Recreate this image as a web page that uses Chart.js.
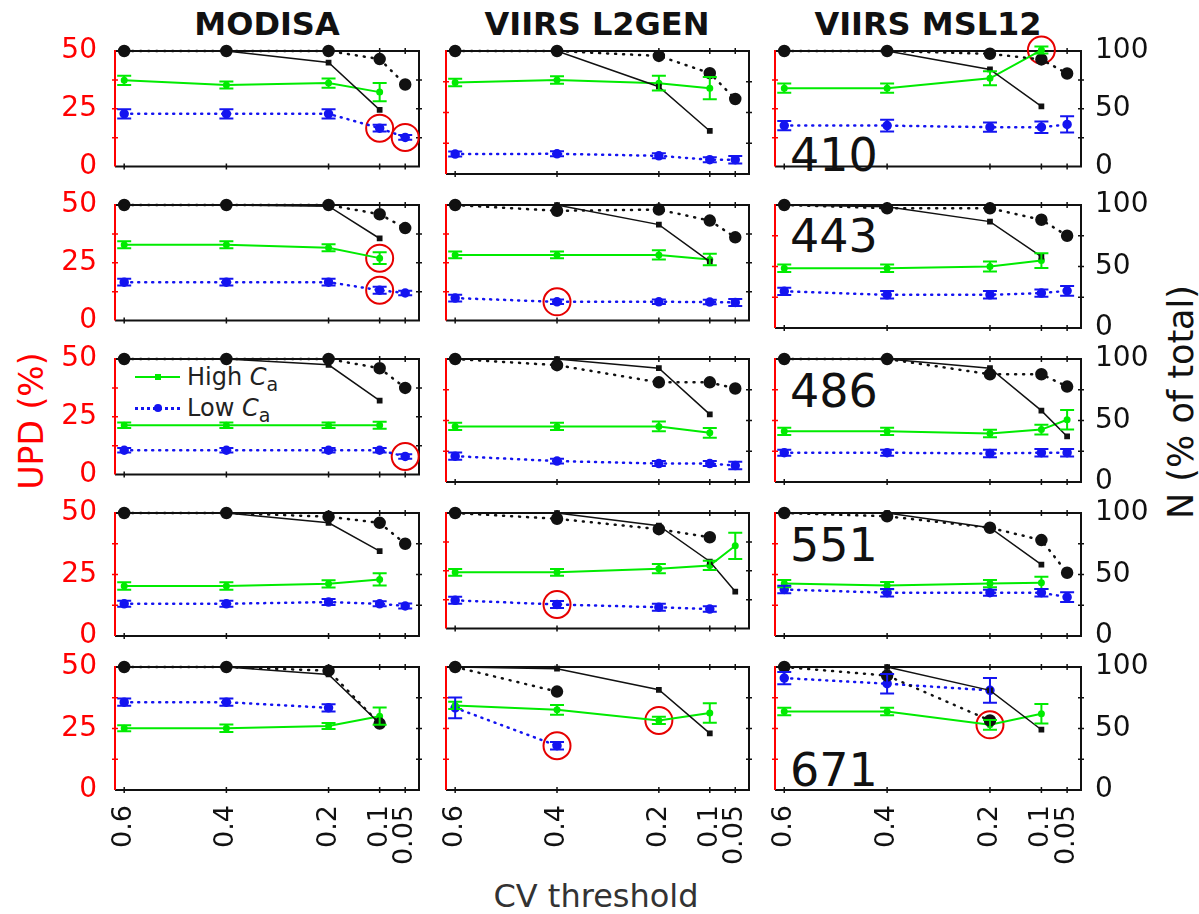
<!DOCTYPE html>
<html>
<head>
<meta charset="utf-8">
<script src="https://cdn.jsdelivr.net/npm/chart.js@4.4.1/dist/chart.umd.min.js"></script>
<style>
body { margin: 0; background: #fff; font-family: "DejaVu Sans", sans-serif; }
#fig { position: relative; width: 1199px; height: 914px; overflow: hidden; }
#fig canvas { position: absolute; }
.title { position: absolute; top: 8px; font-weight: bold; font-size: 32px; line-height: 1; text-align: center; color: #111; white-space: nowrap; }
.band { position: absolute; left: 790px; font-size: 46px; line-height: 1; color: #111; }
.rot { position: absolute; white-space: nowrap; line-height: 1; transform: translate(-50%, -50%) rotate(-90deg); }
.legtxt { position: absolute; left: 187px; font-size: 24px; line-height: 1; color: #222; white-space: nowrap; }
.legtxt sub { font-size: 19px; }
</style>
</head>
<body>
<div id="fig">
  <div class="title" style="left:117px;width:300px;">MODISA</div>
  <div class="title" style="left:447px;width:300px;">VIIRS L2GEN</div>
  <div class="title" style="left:778px;width:300px;">VIIRS MSL12</div>

  <div class="rot" style="left:31px;top:421px;font-size:33px;color:#ff0000;">UPD (%)</div>
  <div class="rot" style="left:1181px;top:402px;font-size:35px;color:#111;">N (% of total)</div>
  <div style="position:absolute;left:446px;width:300px;top:880px;font-size:32px;line-height:1;text-align:center;color:#333;">CV threshold</div>

  <div class="band" style="top:132px;">410</div>
  <div class="band" style="top:213px;">443</div>
  <div class="band" style="top:368px;">486</div>
  <div class="band" style="top:522px;">551</div>
  <div class="band" style="top:747px;">671</div>

  <!-- legend (panel MODISA 486) -->
  <div style="position:absolute;left:135px;top:376px;width:45px;border-top:2px solid rgb(0,235,0);"></div>
  <div style="position:absolute;left:155px;top:374px;width:6px;height:6px;background:rgb(0,235,0);"></div>
  <div class="legtxt" style="top:365px;">High <i>C</i><sub>a</sub></div>
  <div style="position:absolute;left:135px;top:407px;width:45px;border-top:3px dotted rgb(20,20,240);"></div>
  <div style="position:absolute;left:154px;top:404px;width:8px;height:8px;border-radius:4px;background:rgb(20,20,240);"></div>
  <div class="legtxt" style="top:396px;">Low <i>C</i><sub>a</sub></div>
</div>

<script>
var cvThresholds = [0.6, 0.4, 0.2, 0.1, 0.05];
var sensorNames = ["MODISA", "VIIRS L2GEN", "VIIRS MSL12"];
var bandNames = ["410", "443", "486", "551", "671"];

// UPD (%) for high Ca, one row per band, one column per CV threshold
var modisaHigh = [
    [37.3, 35.3, 36.1, 32.2, null],
    [32.8, 32.8, 31.5, 27.0, null],
    [21.3, 21.3, 21.3, 21.3, null],
    [20.3, 20.3, 21.2, 23.0, null],
    [25.1, 25.1, 26.0, 30.0, null]
];
var modisaHighErr = [
    [2, 1.5, 2, 4, null],
    [1.5, 1.5, 1.5, 2.5, null],
    [1.2, 1.2, 1.2, 1.5, null],
    [1.5, 1.5, 1.5, 2.5, null],
    [1.2, 1.5, 1.2, 3.5, null]
];
var modisaLow = [
    [22.8, 22.8, 22.8, 16.6, 12.6],
    [16.6, 16.6, 16.6, 13.1, 11.9],
    [10.5, 10.5, 10.5, 10.5, 7.8],
    [13.1, 13.1, 13.8, 13.1, 12.2],
    [35.7, 35.7, 33.4, null, null]
];
var modisaLowErr = [
    [2, 2, 2, 1.5, 1],
    [1.5, 1.5, 1.5, 1.5, 1],
    [1, 1, 1, 1, 1],
    [1.2, 1.2, 1.2, 1, 1],
    [1.5, 1.5, 1.5, null, null]
];
var modisaNSolid = [
    [100, 100, 90, 49, null],
    [100, 100, 99, 71, null],
    [100, 100, 95, 64, null],
    [100, 100, 92, 69, null],
    [100, 100, 94, 54, null]
];
var modisaNDotted = [
    [100, 100, 100, 93, 71],
    [100, 100, 100, 92, 80],
    [100, 100, 100, 92, 75],
    [100, 100, 97, 92, 75],
    [100, 100, 97, 54, null]
];
// circled points: [series, band index, threshold index]
var modisaCircles = [["low", 0, 3], ["low", 0, 4], ["high", 1, 3], ["low", 1, 3], ["low", 2, 4]];

var l2genHigh = [
    [37.2, 38.2, 36.9, 34.9, null],
    [28.4, 28.4, 28.4, 26.4, null],
    [22.6, 22.6, 22.6, 20.0, null],
    [24.3, 24.3, 25.9, 27.3, 35.8],
    [34.4, 32.6, 28.3, 31.3, null]
];
var l2genHighErr = [
    [1.5, 1.5, 3, 4.5, null],
    [1.5, 1.5, 2, 2.5, null],
    [1.5, 1.5, 2, 2, null],
    [1.5, 1.5, 2, 2, 5.7],
    [1.5, 2, 1.5, 4, null]
];
var l2genLow = [
    [8.1, 8.2, 7.4, 5.8, 5.8],
    [9.7, 8.1, 8.1, 8.0, 7.8],
    [10.5, 8.5, 7.5, 7.5, 6.7],
    [12.2, 10.4, 9.2, 8.4, null],
    [33.4, 18.0, null, null, null]
];
var l2genLowErr = [
    [1, 1, 1, 1, 1.5],
    [1.5, 1, 1, 1, 1.5],
    [1.5, 1, 1, 1, 1.5],
    [1.5, 1.5, 1.5, 1.2, null],
    [4.2, 1.5, null, null, null]
];
var l2genNSolid = [
    [100, 100, 71, 35, null],
    [100, 100, 83, 51, null],
    [100, 100, 92.5, 55, null],
    [100, 100, 89, 58, 32],
    [100, 98.6, 81.5, 46, null]
];
var l2genNDotted = [
    [100, 100, 96, 82, 61],
    [100, 95, 96, 86.5, 72],
    [100, 95, 81, 81, 76],
    [100, 95, 86, 79, null],
    [100, 80, null, null, null]
];
var l2genCircles = [["low", 1, 1], ["low", 3, 1], ["low", 4, 1], ["high", 4, 2]];

var msl12High = [
    [33.9, 33.9, 38.2, 50.4, null],
    [24.3, 24.3, 25.0, 27.4, null],
    [20.6, 20.6, 19.7, 21.3, 25.3],
    [21.3, 20.5, 21.3, 21.6, null],
    [31.9, 31.9, 26.5, 31.0, null]
];
var msl12HighErr = [
    [2, 2, 3, 1.5, null],
    [1.5, 1.5, 2, 3, null],
    [1.5, 1.5, 1.5, 2, 4],
    [1.5, 1.5, 1.5, 2.5, null],
    [1.5, 1.5, 2, 4, null]
];
var msl12Low = [
    [17.7, 17.7, 17.0, 17.0, 18.2],
    [14.9, 13.5, 13.5, 14.2, 15.1],
    [11.9, 11.9, 11.6, 11.9, 11.9],
    [18.9, 17.6, 17.6, 17.6, 15.8],
    [45.5, 43.2, 40.5, null, null]
];
var msl12LowErr = [
    [2, 2.5, 2, 2.5, 3.5],
    [1.5, 1.5, 1.5, 1.5, 2],
    [1.2, 1.2, 1.5, 1.5, 1.5],
    [1.5, 1.5, 1.2, 1.5, 2],
    [2.5, 4, 5, null, null]
];
var msl12NSolid = [
    [100, 100, 84, 52, null],
    [100, 98.6, 86.5, 58, null],
    [100, 100, 92.5, 58, 37],
    [100, 100, 88, 58, null],
    [100, 100, 81, 49, null]
];
var msl12NDotted = [
    [100, 100, 97.6, 92.7, 80.5],
    [100, 97.3, 97.3, 88, 75],
    [100, 100, 87.6, 87.6, 77.6],
    [100, 97.3, 88, 78, 51.4],
    [100, 93, 56.5, null, null]
];
var msl12Circles = [["high", 0, 3], ["high", 4, 2]];

var leftTicks = [0, 25, 50];
var rightTicks = [0, 50, 100];

var allHigh = [modisaHigh, l2genHigh, msl12High];
var allHighErr = [modisaHighErr, l2genHighErr, msl12HighErr];
var allLow = [modisaLow, l2genLow, msl12Low];
var allLowErr = [modisaLowErr, l2genLowErr, msl12LowErr];
var allNSolid = [modisaNSolid, l2genNSolid, msl12NSolid];
var allNDotted = [modisaNDotted, l2genNDotted, msl12NDotted];
var allCircles = [modisaCircles, l2genCircles, msl12Circles];

// layout of the plot boxes
var colLeft = [115, 446, 775];
var colWidth = [304, 303, 306];
var rowTop = [51, 205, 359, 513, 667];
var plotH = 123;
var sideW = 70;
var padTop = 16;

var GREEN = 'rgb(0,235,0)';
var BLUE = 'rgb(20,20,240)';
var RED = 'rgb(255,0,0)';

Chart.defaults.font.family = '"DejaVu Sans", sans-serif';

function noPadding(s) {
    s.paddingTop = 0;
    s.paddingBottom = 0;
    s.paddingLeft = 0;
    s.paddingRight = 0;
}

var framePlugin = {
    id: 'frame',
    beforeDatasetsDraw: function (chart) {
        var a = chart.chartArea, ctx = chart.ctx;
        var xs = chart.scales.x, yl = chart.scales.y, yr = chart.scales.y2;
        ctx.save();
        ctx.strokeStyle = '#111';
        ctx.lineWidth = 2;
        ctx.beginPath();
        ctx.moveTo(a.left, a.top);
        ctx.lineTo(a.right, a.top);
        ctx.lineTo(a.right, a.bottom);
        ctx.lineTo(a.left, a.bottom);
        ctx.stroke();
        ctx.lineWidth = 1.5;
        ctx.beginPath();
        cvThresholds.forEach(function (v) {
            var px = xs.getPixelForValue(v);
            ctx.moveTo(px, a.bottom - 3); ctx.lineTo(px, a.bottom + 3);
            ctx.moveTo(px, a.top - 3); ctx.lineTo(px, a.top + 3);
        });
        [25, 50, 75].forEach(function (v) {
            var py = yr.getPixelForValue(v);
            ctx.moveTo(a.right - 3, py); ctx.lineTo(a.right + 3, py);
        });
        ctx.stroke();
        ctx.strokeStyle = RED;
        ctx.lineWidth = 2;
        ctx.beginPath();
        ctx.moveTo(a.left, a.bottom);
        ctx.lineTo(a.left, a.top - 1);
        ctx.stroke();
        ctx.lineWidth = 1.5;
        ctx.beginPath();
        [12.5, 25, 37.5].forEach(function (v) {
            var py = yl.getPixelForValue(v);
            ctx.moveTo(a.left - 3, py); ctx.lineTo(a.left + 3, py);
        });
        ctx.stroke();
        ctx.restore();
    }
};

var errorBarPlugin = {
    id: 'errorBars',
    afterDatasetsDraw: function (chart) {
        var ctx = chart.ctx;
        chart.data.datasets.forEach(function (ds) {
            if (!ds.errorBars) return;
            var xs = chart.scales.x, ys = chart.scales[ds.yAxisID];
            ctx.save();
            ctx.strokeStyle = ds.borderColor;
            ctx.lineWidth = 2;
            ds.errorBars.forEach(function (b) {
                if (b.e === null) return;
                var px = xs.getPixelForValue(b.x);
                var top = ys.getPixelForValue(b.y + b.e);
                var bot = ys.getPixelForValue(b.y - b.e);
                ctx.beginPath();
                ctx.moveTo(px, top); ctx.lineTo(px, bot);
                ctx.moveTo(px - 7, top); ctx.lineTo(px + 7, top);
                ctx.moveTo(px - 7, bot); ctx.lineTo(px + 7, bot);
                ctx.stroke();
            });
            ctx.restore();
        });
    }
};

function toPoints(vals) {
    var pts = [];
    vals.forEach(function (v, i) {
        if (v !== null) pts.push({x: cvThresholds[i], y: v});
    });
    return pts;
}

function toErrors(vals, errs) {
    var out = [];
    vals.forEach(function (v, i) {
        if (v !== null) out.push({x: cvThresholds[i], y: v, e: errs[i]});
    });
    return out;
}

function makePanel(col, row) {
    var last = row === 4;
    var canvas = document.createElement('canvas');
    var w = colWidth[col] + 2 * sideW;
    var h = padTop + plotH + (last ? 90 : 8);
    canvas.width = w;
    canvas.height = h;
    canvas.style.left = (colLeft[col] - sideW) + 'px';
    canvas.style.top = (rowTop[row] - padTop) + 'px';
    document.getElementById('fig').appendChild(canvas);

    var high = allHigh[col][row], low = allLow[col][row];
    var circlePts = [];
    allCircles[col].forEach(function (c) {
        if (c[1] !== row) return;
        var src = c[0] === 'high' ? high : low;
        circlePts.push({x: cvThresholds[c[2]], y: src[c[2]]});
    });

    new Chart(canvas.getContext('2d'), {
        type: 'line',
        data: {
            datasets: [{
                label: 'N solid',
                data: toPoints(allNSolid[col][row]),
                yAxisID: 'y2',
                borderColor: '#111',
                backgroundColor: '#111',
                borderWidth: 1.5,
                pointStyle: 'rect',
                pointRadius: 3,
                clip: false
            }, {
                label: 'N dotted',
                data: toPoints(allNDotted[col][row]),
                yAxisID: 'y2',
                borderColor: '#111',
                backgroundColor: '#111',
                borderWidth: 2.5,
                borderDash: [1, 7],
                borderCapStyle: 'round',
                pointRadius: 5,
                clip: false
            }, {
                label: 'High Ca',
                data: toPoints(high),
                errorBars: toErrors(high, allHighErr[col][row]),
                yAxisID: 'y',
                borderColor: GREEN,
                backgroundColor: GREEN,
                borderWidth: 2,
                pointRadius: 2.5,
                clip: false
            }, {
                label: 'Low Ca',
                data: toPoints(low),
                errorBars: toErrors(low, allLowErr[col][row]),
                yAxisID: 'y',
                borderColor: BLUE,
                backgroundColor: BLUE,
                borderWidth: 2.5,
                borderDash: [1, 6],
                borderCapStyle: 'round',
                pointRadius: 3.5,
                clip: false
            }, {
                label: 'circled',
                data: circlePts,
                yAxisID: 'y',
                showLine: false,
                pointRadius: 13.5,
                pointBorderWidth: 2,
                pointBorderColor: 'rgb(230,0,0)',
                pointBackgroundColor: 'rgba(0,0,0,0)',
                clip: false
            }]
        },
        options: {
            responsive: false,
            animation: false,
            events: [],
            layout: {padding: {top: padTop, bottom: last ? 0 : 8, left: 0, right: 0}},
            plugins: {legend: {display: false}, tooltip: {enabled: false}},
            scales: {
                x: {
                    type: 'linear', reverse: true, min: 0.023, max: 0.618,
                    grid: {display: false, drawTicks: false}, border: {display: false},
                    afterBuildTicks: function (s) { s.ticks = cvThresholds.map(function (v) { return {value: v}; }); },
                    afterFit: function (s) { s.height = last ? 90 : 0; noPadding(s); },
                    ticks: {display: last, autoSkip: false, minRotation: 90, maxRotation: 90, padding: 15,
                        color: '#111', font: {size: 27}, callback: function (v) { return String(v); }}
                },
                y: {
                    position: 'left', min: 0, max: 50,
                    grid: {display: false, drawTicks: false}, border: {display: false},
                    afterBuildTicks: function (s) { s.ticks = leftTicks.map(function (v) { return {value: v}; }); },
                    afterFit: function (s) { s.width = sideW; noPadding(s); },
                    ticks: {display: col === 0, padding: 18, color: RED, font: {size: 28}}
                },
                y2: {
                    position: 'right', min: 0, max: 100,
                    grid: {display: false, drawTicks: false}, border: {display: false},
                    afterBuildTicks: function (s) { s.ticks = rightTicks.map(function (v) { return {value: v}; }); },
                    afterFit: function (s) { s.width = sideW; noPadding(s); },
                    ticks: {display: col === 2, padding: 14, color: '#111', font: {size: 28}}
                }
            }
        },
        plugins: [framePlugin, errorBarPlugin]
    });
}

for (var r = 0; r < bandNames.length; r++) {
    for (var c = 0; c < sensorNames.length; c++) {
        makePanel(c, r);
    }
}
</script>
</body>
</html>
